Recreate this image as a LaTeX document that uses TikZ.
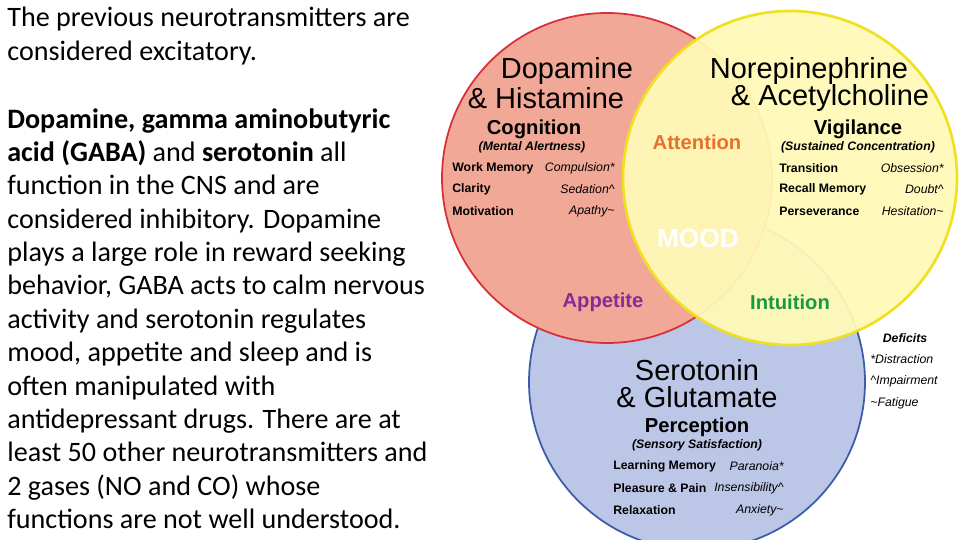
\documentclass[tikz,border=0pt]{standalone}
\usepackage{fontspec}
\setmainfont{Carlito}
\newfontfamily\ar{Liberation Sans}
\begin{document}
\begin{tikzpicture}[x=0.02cm,y=-0.02cm,
  body/.style={anchor=north west,inner sep=0pt,align=left,font=\fontsize{16}{19}\selectfont},
  big/.style={font=\ar\fontsize{16.5}{16}\selectfont,inner sep=0pt},
  head/.style={font=\ar\bfseries\fontsize{11.5}{12}\selectfont,inner sep=0pt},
  sub/.style={font=\ar\bfseries\itshape\fontsize{7}{8}\selectfont,inner sep=0pt},
  itl/.style={font=\ar\bfseries\fontsize{7}{8}\selectfont,inner sep=0pt,anchor=west},
  itr/.style={font=\ar\itshape\fontsize{7}{8}\selectfont,inner sep=0pt,anchor=east},
  mid/.style={font=\ar\bfseries\fontsize{11.5}{12}\selectfont,inner sep=0pt}]
\definecolor{redf}{HTML}{F2A896}
\definecolor{redd}{HTML}{D8303A}
\definecolor{yelf}{HTML}{FFF9B8}
\definecolor{yeld}{HTML}{F0E020}
\definecolor{bluf}{HTML}{BCC6E6}
\definecolor{blud}{HTML}{3C5CA8}
\definecolor{att}{HTML}{E8702A}
\definecolor{app}{HTML}{8A2A96}
\definecolor{intu}{HTML}{1A9A40}
\useasboundingbox (0,0) rectangle (960,540);
\fill[white] (0,0) rectangle (960,540);
\begin{scope}
\clip (0,0) rectangle (960,540);
\fill[bluf,draw=blud,line width=1pt] (697,382) circle (168) coordinate (cb);
\fill[redf,draw=redd,line width=1pt] (607,178) circle (165) coordinate (cr);
\fill[yelf,fill opacity=0.94,draw=yeld,draw opacity=1,line width=1.5pt] (790,178) circle (167) coordinate (cy);
\end{scope}
\node[body] (t1) at (7,7) {The previous neurotransmitters are\\considered excitatory.};
\node[body] (t2) at (7,108) {\textbf{Dopamine, gamma aminobutyric}\\\textbf{acid (GABA)} and \textbf{serotonin} all\\function in the CNS and are\\considered inhibitory. Dopamine\\plays a large role in reward seeking\\behavior, GABA acts to calm nervous\\activity and serotonin regulates\\mood, appetite and sleep and is\\often manipulated with\\antidepressant drugs. There are at\\least 50 other neurotransmitters and\\2 gases (NO and CO) whose\\functions are not well understood.};
\node[big] (d1) at (567,71) {Dopamine};
\node[big] (d2) at (546,98) {\& Histamine};
\node[big] (n1) at (809,71) {Norepinephrine};
\node[big] (n2) at (830,98) {\& Acetylcholine};
\node[big] (s1) at (697,370) {Serotonin};
\node[big] (s2) at (697,397) {\& Glutamate};
\node[head] (cg) at (534,129) {Cognition};
\node[sub] (cgs) at (532,147) {(Mental Alertness)};
\node[head] (vg) at (858,129) {Vigilance};
\node[sub] (vgs) at (858,147) {(Sustained Concentration)};
\node[head] (pc) at (697,427) {Perception};
\node[sub] (pcs) at (697,445) {(Sensory Satisfaction)};
\node[itl] (a1) at (452,168) {Work Memory};
\node[itl] (a2) at (452,189) {Clarity};
\node[itl] (a3) at (452,211) {Motivation};
\node[itr] (b1) at (615,168) {Compulsion*};
\node[itr] (b2) at (615,189) {Sedation\textasciicircum};
\node[itr] (b3) at (615,211) {Apathy\textasciitilde};
\node[itl] (c1) at (779,168) {Transition};
\node[itl] (c2) at (779,189) {Recall Memory};
\node[itl] (c3) at (779,211) {Perseverance};
\node[itr] (e1) at (944,168) {Obsession*};
\node[itr] (e2) at (944,189) {Doubt\textasciicircum};
\node[itr] (e3) at (944,211) {Hesitation\textasciitilde};
\node[itl] (f1) at (613,466) {Learning Memory};
\node[itl] (f2) at (613,488) {Pleasure \& Pain};
\node[itl] (f3) at (613,510) {Relaxation};
\node[itr] (g1) at (784,466) {Paranoia*};
\node[itr] (g2) at (784,488) {Insensibility\textasciicircum};
\node[itr] (g3) at (784,510) {Anxiety\textasciitilde};
\node[mid,text=att] (at) at (697,142) {Attention};
\node[font=\ar\bfseries\fontsize{15}{15}\selectfont,text=white,inner sep=0pt] (md) at (698,238) {MOOD};
\node[mid,text=app] (ap) at (603,302) {Appetite};
\node[mid,text=intu] (in) at (790,302) {Intuition};
\node[font=\ar\bfseries\itshape\fontsize{7}{8}\selectfont,inner sep=0pt] (df) at (905,338) {Deficits};
\node[itr,anchor=west] (h1) at (870,359) {*Distraction};
\node[itr,anchor=west] (h2) at (870,381) {\textasciicircum Impairment};
\node[itr,anchor=west] (h3) at (870,403) {\textasciitilde Fatigue};
\end{tikzpicture}
\end{document}
